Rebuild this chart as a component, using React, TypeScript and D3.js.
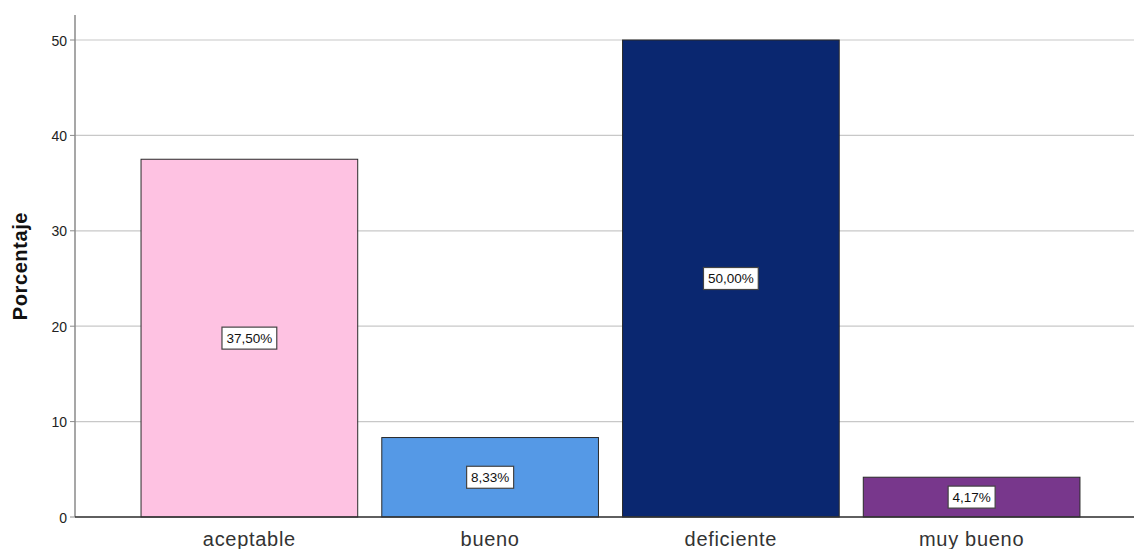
import React from "react";
import * as d3 from "d3";

const categories = ["aceptable", "bueno", "deficiente", "muy bueno"];
const values = [37.5, 8.33, 50.0, 4.17];
const valueLabels = ["37,50%", "8,33%", "50,00%", "4,17%"];
const colors = ["#FEC2E2", "#5599E6", "#0A2770", "#78378C"];
const yTicks = [0, 10, 20, 30, 40, 50];

const W = 1134;
const H = 549;

export default function App() {
  const x = d3
    .scaleBand<string>()
    .domain(categories)
    .range([129, 1092])
    .paddingInner(0.1)
    .paddingOuter(0.05);
  const y = d3.scaleLinear().domain([0, 50]).range([517, 40]);
  const font = "'Liberation Sans', Arial, sans-serif";

  return (
    <svg
      width={W}
      height={H}
      style={{ position: "absolute", left: 0, top: 0, background: "#fff" }}
      fontFamily={font}
    >
      {/* gridlines */}
      {yTicks.map((t) => (
        <line
          key={"g" + t}
          x1={75}
          x2={W}
          y1={y(t)}
          y2={y(t)}
          stroke="#c8c8c8"
          strokeWidth={1.2}
        />
      ))}
      {/* y axis */}
      <line x1={75} x2={75} y1={15} y2={517} stroke="#8a8a8a" strokeWidth={1.5} />
      {yTicks.map((t) => (
        <g key={"t" + t}>
          <line x1={70} x2={75} y1={y(t)} y2={y(t)} stroke="#8a8a8a" strokeWidth={1} />
          <text
            x={67}
            y={y(t)}
            dy="0.4em"
            textAnchor="end"
            fontSize={14}
            fill="#222"
          >
            {t}
          </text>
        </g>
      ))}
      <text
        transform={`translate(27, ${y(26.3)}) rotate(-90)`}
        textAnchor="middle"
        fontSize={20}
        letterSpacing={0.6}
        fontWeight="bold"
        fill="#111"
      >
        Porcentaje
      </text>
      {/* bars */}
      {categories.map((c, i) => (
        <rect
          key={c}
          x={x(c)!}
          y={y(values[i])}
          width={x.bandwidth()}
          height={y(0) - y(values[i])}
          fill={colors[i]}
          stroke="#2a2a2a"
          strokeWidth={1}
        />
      ))}
      {/* baseline */}
      <line x1={75} x2={W} y1={517} y2={517} stroke="#333" strokeWidth={1.5} />
      {/* x labels */}
      {categories.map((c) => (
        <text
          key={"x" + c}
          x={x(c)! + x.bandwidth() / 2}
          y={546}
          textAnchor="middle"
          fontSize={20}
          letterSpacing={0.7}
          fill="#333"
        >
          {c}
        </text>
      ))}
      {/* value labels */}
      {categories.map((c, i) => {
        const cx = x(c)! + x.bandwidth() / 2;
        const cy = y(values[i] / 2);
        const w = valueLabels[i].length * 7.8 + 8;
        return (
          <g key={"v" + c}>
            <rect
              x={cx - w / 2}
              y={cy - 11}
              width={w}
              height={22}
              fill="#fff"
              stroke="#444"
              strokeWidth={1.2}
            />
            <text
              x={cx}
              y={cy}
              dy="0.36em"
              textAnchor="middle"
              fontSize={13.5}
              fill="#111"
            >
              {valueLabels[i]}
            </text>
          </g>
        );
      })}
    </svg>
  );
}
